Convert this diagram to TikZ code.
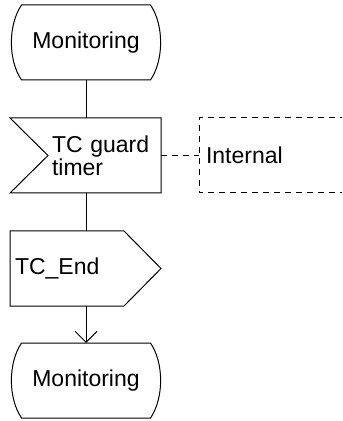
\documentclass[tikz,border=0pt]{standalone}
\usepackage{fontspec}
\setmainfont{Liberation Sans}
\usetikzlibrary{arrows.meta}
\definecolor{sdledge}{RGB}{0,0,0}
\tikzset{
  sdlline/.style={draw=sdledge, line width=0.5pt},
  sdlbox/.style={
    shape=rectangle, inner sep=2pt, outer sep=0pt,
    font=\fontsize{11.5}{11.5}\selectfont, minimum height=37.5pt
  },
  state/.style={
    sdlbox, minimum width=75pt,
    append after command={\pgfextra{
      \draw[sdlline]
      ([xshift=5.25pt]\tikzlastnode.north west) -- ([xshift=-5.25pt]\tikzlastnode.north east)
      .. controls +(6.75pt,-10pt) and +(6.75pt,10pt) .. ([xshift=-5.25pt]\tikzlastnode.south east)
      -- ([xshift=5.25pt]\tikzlastnode.south west)
      .. controls +(-6.75pt,10pt) and +(-6.75pt,-10pt) .. cycle;
    }}
  },
  sigin/.style={
    sdlbox, text width=52.5pt, align=left,
    append after command={\pgfextra{
      \draw[sdlline]
      (\tikzlastnode.north east) -- ([xshift=-19pt]\tikzlastnode.north west)
      -- (\tikzlastnode.west) -- ([xshift=-19pt]\tikzlastnode.south west)
      -- (\tikzlastnode.south east) -- cycle;
    }}
  },
  sigout/.style={
    sdlbox, inner xsep=2.5pt, text width=52pt, align=left,
    append after command={\pgfextra{
      \draw[sdlline]
      (\tikzlastnode.north west) -- (\tikzlastnode.north east)
      -- ([xshift=18.5pt]\tikzlastnode.east) -- (\tikzlastnode.south east)
      -- (\tikzlastnode.south west) -- cycle;
    }}
  },
  ext/.style={
    sdlbox, inner xsep=3.5pt, text width=160pt, align=left,
    append after command={\pgfextra{
      \draw[sdlline, dash pattern=on 3pt off 2.5pt]
      (\tikzlastnode.north east) -- (\tikzlastnode.north west)
      -- (\tikzlastnode.south west) -- (\tikzlastnode.south east);
    }}
  },
  link/.style={sdlline},
  arr/.style={link, -{Straight Barb[length=5.5pt,width=11pt]}},
  dlink/.style={link, dash pattern=on 3pt off 2.5pt}
}
\begin{document}
\begin{tikzpicture}[x=0.5pt,y=-0.5pt]
  \clip (0,0) rectangle (342,421);
  \node[state] (mon1) at (86,42.5) {Monitoring};
  \node[sigin, anchor=west] (tmr) at (48,155.5) {TC guard\\timer};
  \node[ext, anchor=west] (int) at (199,155.5) {Internal};
  \node[sigout, anchor=west] (end) at (10,268.5) {TC\_End};
  \node[state] (mon2) at (86,380.5) {Monitoring};
  \draw[link] (mon1.south) -- (mon1.south |- tmr.north);
  \draw[link] (mon1.south |- tmr.south) -- (mon1.south |- end.north);
  \draw[arr] (mon1.south |- end.south) -- (mon2.north);
  \draw[dlink] (tmr.east) -- (int.west);
\end{tikzpicture}
\end{document}
